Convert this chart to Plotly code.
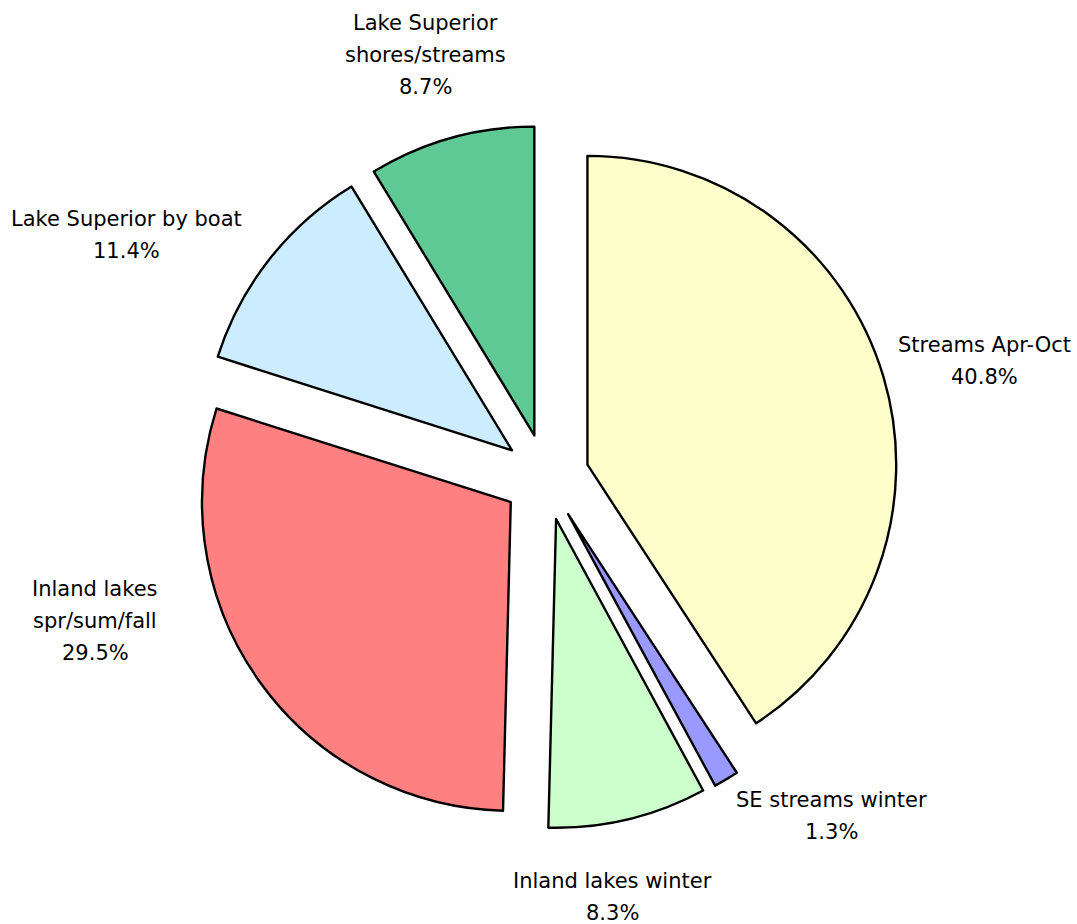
import plotly.graph_objects as go

# --- data ---
labels = ["Streams Apr-Oct", "SE streams winter", "Inland lakes winter",
          "Inland lakes spr/sum/fall", "Lake Superior by boat",
          "Lake Superior shores/streams"]
shares = [40.8, 1.3, 8.3, 29.5, 11.4, 8.7]
label_lines = [["Streams Apr-Oct"], ["SE streams winter"], ["Inland lakes winter"],
               ["Inland lakes", "spr/sum/fall"], ["Lake Superior by boat"],
               ["Lake Superior", "shores/streams"]]

# --- style ---
COLORS = ["#FFFFCC", "#9999FF", "#CCFFCC", "#FF8080", "#CCECFF", "#5FC995"]
W, H = 1077, 924
LINE_H = 32
# label block centres in pixels (layout only)
LABEL_XY = [(984, 361), (831, 816), (612, 897), (95, 621), (126, 235), (425, 55)]


def px_x(x):
    return x / W


def px_y(y):
    return 1 - y / H


fig = go.Figure(go.Pie(
    labels=labels,
    values=shares,
    sort=False,
    direction="clockwise",
    rotation=0,
    pull=[0.14] * len(shares),
    marker=dict(colors=COLORS, line=dict(color="#000000", width=2.4)),
    textinfo="none",
    hovertemplate="%{label}: %{value:.1f}%<extra></extra>",
    domain=dict(x=[px_x(194), px_x(898)], y=[px_y(829), px_y(125)]),
    showlegend=False,
))

for lines, v, (cx, cy) in zip(label_lines, shares, LABEL_XY):
    rows = lines + [f"{v:.1f}%"]
    n = len(rows)
    for i, row in enumerate(rows):
        ly = cy + (i - (n - 1) / 2) * LINE_H
        fig.add_annotation(
            x=px_x(cx), y=px_y(ly), xref="paper", yref="paper",
            text=row, showarrow=False,
            xanchor="center", yanchor="middle", align="center",
            font=dict(family="DejaVu Sans", size=21, color="#000000"),
        )

fig.update_layout(
    width=W, height=H,
    margin=dict(l=0, r=0, t=0, b=0),
    paper_bgcolor="white", plot_bgcolor="white",
)

# drop the default page margin so the figure fills the window exactly
fig.write_html("out.html", config={"displayModeBar": False},
               post_script="document.body.style.margin='0px';")
